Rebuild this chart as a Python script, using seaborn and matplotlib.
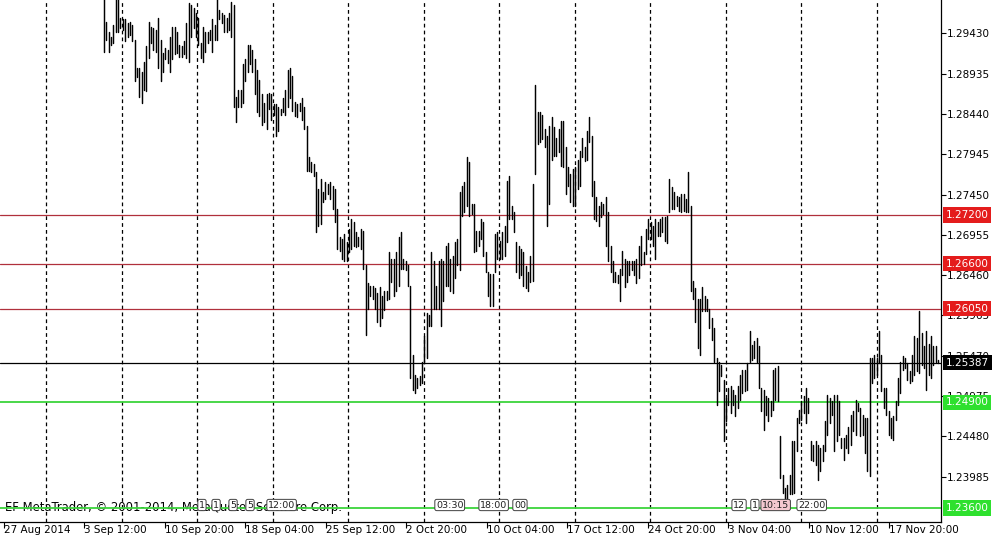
import numpy as np
import pandas as pd
import matplotlib
matplotlib.use("Agg")
import matplotlib.pyplot as plt
import seaborn as sns
from matplotlib.transforms import blended_transform_factory

# ---------------- data (H4 bars: high / low) ----------------
highs = [
    1.3000, 1.2957, 1.2945, 1.2939, 1.2953, 1.2995, 1.2990, 1.2962, 1.2960, 1.2960,
    1.2956, 1.2957, 1.2953, 1.2935, 1.2901, 1.2901, 1.2895, 1.2908, 1.2927, 1.2957,
    1.2951, 1.2950, 1.2947, 1.2962, 1.2935, 1.2919, 1.2925, 1.2923, 1.2939, 1.2951,
    1.2951, 1.2944, 1.2929, 1.2927, 1.2933, 1.2956, 1.2980, 1.2978, 1.2974, 1.2968,
    1.2962, 1.2931, 1.2951, 1.2944, 1.2945, 1.2947, 1.2960, 1.2953, 1.2992, 1.2972,
    1.2968, 1.2966, 1.2962, 1.2968, 1.2982, 1.2978, 1.2865, 1.2874, 1.2874, 1.2905,
    1.2911, 1.2929, 1.2929, 1.2923,
    1.2911, 1.2898, 1.2886, 1.2868, 1.2858, 1.2868, 1.2870, 1.2868, 1.2856, 1.2856,
    1.2853, 1.2850, 1.2864, 1.2874, 1.2898, 1.2901, 1.2890, 1.2859, 1.2856, 1.2858,
    1.2864, 1.2852, 1.2829, 1.2791, 1.2785, 1.2782, 1.2773, 1.2752, 1.2764, 1.2748,
    1.2760, 1.2758, 1.2760, 1.2755, 1.2752, 1.2727, 1.2693, 1.2691, 1.2697, 1.2687,
    1.2703, 1.2715, 1.2711, 1.2699, 1.2693, 1.2703, 1.2700, 1.2658, 1.2636, 1.2633,
    1.2633, 1.2630, 1.2624, 1.2632, 1.2620, 1.2626, 1.2627, 1.2675, 1.2666, 1.2666,
    1.2675, 1.2693, 1.2699, 1.2666, 1.2663, 1.2658, 1.2633, 1.2548, 1.2523, 1.2520,
    1.2522, 1.2540,
    1.2571, 1.2599, 1.2597, 1.2675, 1.2663, 1.2633, 1.2664, 1.2666, 1.2663, 1.2682,
    1.2685, 1.2666, 1.2669, 1.2687, 1.2691, 1.2748, 1.2755, 1.2760, 1.2791, 1.2785,
    1.2733, 1.2733, 1.2700, 1.2700, 1.2715, 1.2711, 1.2675, 1.2650, 1.2648, 1.2648,
    1.2697, 1.2699, 1.2688, 1.2699, 1.2707, 1.2762, 1.2768, 1.2731, 1.2724, 1.2687,
    1.2682, 1.2678, 1.2675, 1.2657, 1.2650, 1.2670, 1.2758, 1.2880, 1.2846, 1.2846,
    1.2843, 1.2825, 1.2817, 1.2829, 1.2840, 1.2828, 1.2815, 1.2825, 1.2835, 1.2835,
    1.2803, 1.2779, 1.2770, 1.2776,
    1.2779, 1.2788, 1.2798, 1.2815, 1.2803, 1.2823, 1.2840, 1.2817, 1.2762, 1.2742,
    1.2731, 1.2736, 1.2733, 1.2742, 1.2724, 1.2682, 1.2664, 1.2650, 1.2646, 1.2654,
    1.2676, 1.2666, 1.2664, 1.2664, 1.2664, 1.2663, 1.2666, 1.2682, 1.2694, 1.2675,
    1.2703, 1.2715, 1.2711, 1.2707, 1.2715, 1.2711, 1.2715, 1.2718, 1.2718, 1.2719,
    1.2764, 1.2754, 1.2748, 1.2743, 1.2742, 1.2746, 1.2746, 1.2740, 1.2773, 1.2731,
    1.2639, 1.2630, 1.2617, 1.2617, 1.2632, 1.2621, 1.2617, 1.2605, 1.2593, 1.2581,
    1.2544, 1.2540, 1.2536, 1.2517, 1.2495, 1.2507, 1.2510, 1.2505, 1.2499,
    1.2510, 1.2523, 1.2529, 1.2529, 1.2538, 1.2577, 1.2560, 1.2565, 1.2569, 1.2559,
    1.2507, 1.2505, 1.2498, 1.2495, 1.2492, 1.2529, 1.2532, 1.2534, 1.2449, 1.2401,
    1.2385, 1.2388, 1.2401, 1.2443, 1.2443, 1.2471, 1.2481, 1.2492, 1.2498, 1.2507,
    1.2495, 1.2443, 1.2438, 1.2443, 1.2437, 1.2434, 1.2438, 1.2467, 1.2499, 1.2495,
    1.2492, 1.2499, 1.2499, 1.2492, 1.2446, 1.2446, 1.2450, 1.2459, 1.2474, 1.2479,
    1.2493, 1.2489, 1.2483, 1.2474, 1.2471, 1.2471, 1.2544, 1.2544, 1.2548, 1.2544,
    1.2577, 1.2548, 1.2507, 1.2507, 1.2479, 1.2471, 1.2473, 1.2492, 1.2520, 1.2540,
    1.2547, 1.2544, 1.2538, 1.2528, 1.2548, 1.2571, 1.2569, 1.2602, 1.2575, 1.2559,
    1.2577, 1.2562, 1.2571, 1.2559, 1.2559, 1.2542,
]
lows = [
    1.2920, 1.2935, 1.2920, 1.2929, 1.2931, 1.2944, 1.2945, 1.2950, 1.2947, 1.2933,
    1.2939, 1.2941, 1.2933, 1.2884, 1.2889, 1.2865, 1.2858, 1.2874, 1.2872, 1.2913,
    1.2931, 1.2923, 1.2920, 1.2901, 1.2884, 1.2896, 1.2911, 1.2907, 1.2896, 1.2911,
    1.2917, 1.2919, 1.2914, 1.2914, 1.2917, 1.2913, 1.2908, 1.2939, 1.2950, 1.2939,
    1.2929, 1.2913, 1.2908, 1.2920, 1.2931, 1.2935, 1.2920, 1.2935, 1.2935, 1.2960,
    1.2956, 1.2945, 1.2944, 1.2947, 1.2939, 1.2852, 1.2834, 1.2852, 1.2852, 1.2858,
    1.2884, 1.2896, 1.2905, 1.2896,
    1.2868, 1.2846, 1.2841, 1.2831, 1.2834, 1.2825, 1.2850, 1.2837, 1.2843, 1.2817,
    1.2823, 1.2843, 1.2846, 1.2843, 1.2852, 1.2864, 1.2847, 1.2841, 1.2840, 1.2847,
    1.2837, 1.2825, 1.2774, 1.2774, 1.2773, 1.2768, 1.2699, 1.2707, 1.2709, 1.2736,
    1.2740, 1.2746, 1.2740, 1.2727, 1.2711, 1.2678, 1.2676, 1.2666, 1.2663, 1.2664,
    1.2675, 1.2678, 1.2682, 1.2681, 1.2682, 1.2678, 1.2654, 1.2572, 1.2605, 1.2621,
    1.2617, 1.2605, 1.2589, 1.2584, 1.2593, 1.2603, 1.2615, 1.2617, 1.2638, 1.2621,
    1.2626, 1.2633, 1.2654, 1.2654, 1.2652, 1.2633, 1.2520, 1.2505, 1.2501, 1.2507,
    1.2511, 1.2514,
    1.2540, 1.2544, 1.2584, 1.2584, 1.2605, 1.2605, 1.2605, 1.2584, 1.2614, 1.2633,
    1.2633, 1.2626, 1.2624, 1.2642, 1.2658, 1.2652, 1.2719, 1.2724, 1.2731, 1.2719,
    1.2721, 1.2675, 1.2676, 1.2682, 1.2691, 1.2670, 1.2650, 1.2621, 1.2608, 1.2608,
    1.2650, 1.2666, 1.2666, 1.2666, 1.2670, 1.2687, 1.2715, 1.2715, 1.2699, 1.2650,
    1.2642, 1.2646, 1.2633, 1.2630, 1.2626, 1.2638, 1.2639, 1.2770, 1.2807, 1.2809,
    1.2813, 1.2804, 1.2707, 1.2733, 1.2788, 1.2792, 1.2792, 1.2797, 1.2780, 1.2779,
    1.2746, 1.2755, 1.2736, 1.2731,
    1.2731, 1.2752, 1.2755, 1.2791, 1.2786, 1.2788, 1.2809, 1.2743, 1.2715, 1.2713,
    1.2707, 1.2718, 1.2721, 1.2682, 1.2663, 1.2650, 1.2638, 1.2638, 1.2636, 1.2614,
    1.2646, 1.2632, 1.2638, 1.2646, 1.2652, 1.2646, 1.2636, 1.2642, 1.2658, 1.2660,
    1.2672, 1.2691, 1.2691, 1.2682, 1.2666, 1.2694, 1.2694, 1.2699, 1.2688, 1.2685,
    1.2724, 1.2727, 1.2727, 1.2731, 1.2725, 1.2724, 1.2725, 1.2724, 1.2724, 1.2626,
    1.2617, 1.2589, 1.2556, 1.2548, 1.2602, 1.2602, 1.2602, 1.2581, 1.2566, 1.2540,
    1.2487, 1.2504, 1.2522, 1.2443, 1.2467, 1.2487, 1.2477, 1.2487, 1.2473,
    1.2483, 1.2493, 1.2501, 1.2504, 1.2505, 1.2540, 1.2542, 1.2544, 1.2540, 1.2507,
    1.2479, 1.2456, 1.2474, 1.2467, 1.2473, 1.2481, 1.2493, 1.2492, 1.2397, 1.2379,
    1.2360, 1.2365, 1.2377, 1.2377, 1.2379, 1.2430, 1.2465, 1.2468, 1.2477, 1.2465,
    1.2477, 1.2419, 1.2418, 1.2413, 1.2395, 1.2406, 1.2418, 1.2430, 1.2450, 1.2465,
    1.2474, 1.2430, 1.2443, 1.2450, 1.2434, 1.2419, 1.2434, 1.2428, 1.2438, 1.2455,
    1.2450, 1.2479, 1.2449, 1.2450, 1.2428, 1.2406, 1.2400, 1.2514, 1.2520, 1.2523,
    1.2538, 1.2504, 1.2483, 1.2474, 1.2450, 1.2446, 1.2444, 1.2468, 1.2487, 1.2501,
    1.2529, 1.2532, 1.2517, 1.2514, 1.2516, 1.2523, 1.2528, 1.2526, 1.2536, 1.2532,
    1.2505, 1.2523, 1.2520, 1.2536, 1.2540, 1.2538,
]

time_labels = ["27 Aug 2014", "3 Sep 12:00", "10 Sep 20:00", "18 Sep 04:00",
               "25 Sep 12:00", "2 Oct 20:00", "10 Oct 04:00", "17 Oct 12:00",
               "24 Oct 20:00", "3 Nov 04:00", "10 Nov 12:00", "17 Nov 20:00"]
price_ticks = [1.29430, 1.28935, 1.28440, 1.27945, 1.27450, 1.26955,
               1.26460, 1.25965, 1.25470, 1.24975, 1.24480, 1.23985]
red_levels = [1.27200, 1.26600, 1.26050]
green_levels = [1.24900, 1.23600]
current_price = 1.25387

# calendar event flags: (bar position, label)
event_bars = [40.3, 46.3, 53.5, 60.7, 69.6, 140.9, 159.6, 174.0, 267.0, 275.0, 279.3, 294.6]
event_texts = ["1", "1", "5", "5", "12:00", "03:30", "18:00", "00", "12", "1", "10:15", "22:00"]

# ---------------- layout constants ----------------
BAR_PX = 2.356          # pixel spacing per bar
FIRST_PX = 104          # pixel of first drawn bar
AX_W = 941
AX_H = 521.7
W, H = 1001, 538

n = min(len(highs), len(lows))
idx = np.arange(n)
df = pd.DataFrame({
    "bar": np.repeat(idx, 2),
    "price": np.ravel(np.column_stack([lows[:n], highs[:n]])),
})

sns.set_style("white")
plt.rcParams["font.family"] = ["DejaVu Sans"]

fig = plt.figure(figsize=(W / 100, H / 100), dpi=100)
ax = fig.add_axes([0, (H - AX_H) / H, AX_W / W, AX_H / H])

sns.lineplot(data=df, x="bar", y="price", units="bar", estimator=None,
             color="black", lw=1.05, ax=ax, legend=False, sort=False, zorder=4)

x_left = -FIRST_PX / BAR_PX
x_right = (AX_W - FIRST_PX) / BAR_PX
ax.set_xlim(x_left, x_right)
ax.set_ylim(1.23433, 1.29839)

# weekly dashed grid
grid_first = (46.5 - FIRST_PX) / BAR_PX
grid_step = 75.47 / BAR_PX
for k in range(12):
    ax.axvline(grid_first + k * grid_step, color="black", lw=0.9,
               ls=(0, (3, 2.5)), zorder=1)

# level lines
for lv in red_levels:
    ax.axhline(lv, color="#b0303c", lw=0.9, zorder=3)
ax.axhline(current_price, color="black", lw=0.9, zorder=3)
for lv in green_levels:
    ax.axhline(lv, color="#3cd43c", lw=1.3, zorder=3)

# x ticks
tick_first = (4 - FIRST_PX) / BAR_PX
tick_step = 80.45 / BAR_PX
ax.set_xticks([tick_first + k * tick_step for k in range(len(time_labels))])
ax.set_xticklabels(time_labels, ha="left", fontsize=7.5)
ax.tick_params(axis="x", direction="out", length=4, width=0.8, pad=-1.5,
               colors="black", bottom=True)

# y ticks on right
ax.yaxis.tick_right()
ax.set_yticks(price_ticks)
ax.set_yticklabels([f"{p:.5f}" for p in price_ticks], fontsize=7.5)
ax.tick_params(axis="y", direction="out", length=3.5, width=0.8, pad=1,
               colors="black", right=True, left=False)

ax.set_xlabel("")
ax.set_ylabel("")
for s in ["left", "top"]:
    ax.spines[s].set_visible(False)
for s in ["right", "bottom"]:
    ax.spines[s].set_color("black")
    ax.spines[s].set_linewidth(0.9)

# price tags on the right axis
tr = blended_transform_factory(ax.transAxes, ax.transData)
tags = [(lv, "#e41c1c") for lv in red_levels] + [(current_price, "black")] + \
       [(lv, "#2ee02e") for lv in green_levels]
for lv, col in tags:
    ax.text(946 / AX_W, lv, f"{lv:.5f}", transform=tr, ha="left", va="center",
            color="white", fontsize=7.5, zorder=10, clip_on=False,
            bbox=dict(boxstyle="square,pad=0.25", fc=col, ec="none"))

# copyright text
ax.text(5 / AX_W, (AX_H - 507) / AX_H, "EF MetaTrader, © 2001-2014, MetaQuotes Software Corp.",
        transform=ax.transAxes, ha="left", va="center", fontsize=8.4,
        color="black", zorder=2)

# event flags
tre = blended_transform_factory(ax.transData, ax.transAxes)
for xb, t in zip(event_bars, event_texts):
    fc = "#f4c8d0" if t == "10:15" else "white"
    ax.text(xb, (AX_H - 505) / AX_H, t, transform=tre, ha="left", va="center",
            fontsize=6.8, color="#202020", zorder=5,
            bbox=dict(boxstyle="round,pad=0.12,rounding_size=0.2", fc=fc,
                      ec="#404040", lw=0.7))

fig.savefig("out.png", dpi=100)
